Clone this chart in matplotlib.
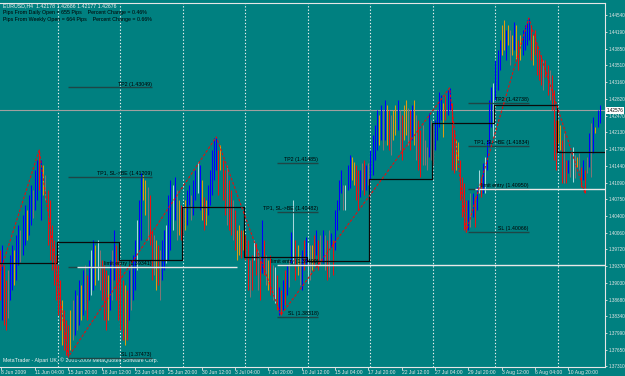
import numpy as np
import matplotlib.pyplot as plt

plt.rcParams['font.family'] = ['Liberation Sans', 'DejaVu Sans']

# EURUSD H4, bars counted from 8 Jun 2009 00:00 (weekends skipped)
first_bar = 2
bar_high = [
    1.3970, 1.3980, 1.3939, 1.3908, 1.3929, 1.3960, 1.3980, 1.3970, 1.4001, 1.4021, 1.4011, 1.4042, 1.4063, 1.4052,
    1.4083, 1.4104, 1.4094, 1.4135, 1.4155, 1.4176, 1.4155, 1.4145, 1.4125, 1.4094, 1.4073, 1.4021, 1.3991, 1.3960,
    1.3939, 1.3908, 1.3867, 1.3846, 1.3826, 1.3815, 1.3846, 1.3867, 1.3887, 1.3877, 1.3908, 1.3898, 1.3929, 1.3939, 1.3919,
    1.3949, 1.3970, 1.3991, 1.3980, 1.3991, 1.3970, 1.3949, 1.3939, 1.3929, 1.3919, 1.3949, 1.3970, 1.4011, 1.3980, 1.3949,
    1.3939, 1.3908, 1.3898, 1.3887, 1.3929, 1.3939, 1.3960, 1.3991, 1.4032, 1.4073, 1.4129, 1.4125, 1.4114, 1.4100, 1.4083,
    1.4011, 1.4001, 1.3991, 1.3980, 1.3970, 1.3991, 1.4011, 1.4021, 1.4083, 1.4114, 1.4104, 1.4121, 1.4094, 1.4073, 1.4063,
    1.4059, 1.4073, 1.4094, 1.4104, 1.4083, 1.4114, 1.4135, 1.4151, 1.4145, 1.4114, 1.4079, 1.4073, 1.4104, 1.4135, 1.4176,
    1.4201, 1.4203, 1.4176, 1.4186, 1.4155, 1.4135, 1.4145, 1.4114, 1.4094, 1.4073, 1.4052, 1.4011, 1.4021, 1.4011, 1.4011,
    1.4001, 1.3991, 1.3949, 1.3960, 1.3991, 1.3984, 1.3970, 1.3949, 1.4032, 1.3991, 1.3960, 1.3949, 1.3960, 1.3939, 1.3935,
    1.3919, 1.3894, 1.3887, 1.3908, 1.3929, 1.3939, 1.3949, 1.4007, 1.4073, 1.3991, 1.3980, 1.3960, 1.3970, 1.3991, 1.3997,
    1.3984, 1.3980, 1.3980, 1.4001, 1.4011, 1.3991, 1.4001, 1.4011, 1.4001, 1.3991, 1.4011, 1.4005, 1.3991, 1.4052, 1.4073,
    1.4114, 1.4135, 1.4104, 1.4104, 1.4145, 1.4166, 1.4162, 1.4151, 1.4145, 1.4135, 1.4135, 1.4149, 1.4155, 1.4145, 1.4149,
    1.4176, 1.4207, 1.4228, 1.4258, 1.4248, 1.4269, 1.4258, 1.4279, 1.4269, 1.4258, 1.4248, 1.4258, 1.4269, 1.4279, 1.4258,
    1.4248, 1.4269, 1.4279, 1.4263, 1.4258, 1.4269, 1.4279, 1.4248, 1.4238, 1.4217, 1.4228, 1.4197, 1.4182, 1.4252, 1.4238,
    1.4228, 1.4238, 1.4258, 1.4295, 1.4289, 1.4273, 1.4289, 1.4300, 1.4304, 1.4273, 1.4217, 1.4197, 1.4192, 1.4155, 1.4121,
    1.4108, 1.4073, 1.4073, 1.4087, 1.4087, 1.4079, 1.4100, 1.4135, 1.4121, 1.4149, 1.4162, 1.4197, 1.4279, 1.4306, 1.4314,
    1.4361, 1.4382, 1.4403, 1.4433, 1.4444, 1.4423, 1.4433, 1.4423, 1.4413, 1.4440, 1.4433, 1.4403, 1.4413, 1.4423, 1.4433,
    1.4444, 1.4448, 1.4433, 1.4413, 1.4423, 1.4392, 1.4382, 1.4372, 1.4361, 1.4361, 1.4351, 1.4341, 1.4330, 1.4300, 1.4238,
    1.4238, 1.4228, 1.4197, 1.4211, 1.4155, 1.4155, 1.4170, 1.4182, 1.4166, 1.4162, 1.4170, 1.4141, 1.4155, 1.4135, 1.4162,
    1.4211, 1.4232, 1.4244, 1.4223, 1.4258, 1.4269,
]
bar_low = [
    1.3867, 1.3826, 1.3815, 1.3805, 1.3830, 1.3867, 1.3887, 1.3898, 1.3908, 1.3939, 1.3945, 1.3960, 1.3980, 1.3991,
    1.4001, 1.4021, 1.4036, 1.4052, 1.4073, 1.4094, 1.4032, 1.4083, 1.4073, 1.3980, 1.3949, 1.3929, 1.3898, 1.3867,
    1.3836, 1.3805, 1.3774, 1.3764, 1.3754, 1.3750, 1.3764, 1.3785, 1.3795, 1.3805, 1.3815, 1.3826, 1.3836, 1.3846, 1.3826,
    1.3867, 1.3877, 1.3887, 1.3898, 1.3908, 1.3887, 1.3867, 1.3826, 1.3805, 1.3826, 1.3846, 1.3867, 1.3908, 1.3867, 1.3826,
    1.3805, 1.3785, 1.3774, 1.3785, 1.3826, 1.3846, 1.3867, 1.3887, 1.3929, 1.3970, 1.3991, 1.4073, 1.4042, 1.3991, 1.3980,
    1.3908, 1.3919, 1.3887, 1.3898, 1.3867, 1.3908, 1.3929, 1.3943, 1.3949, 1.3970, 1.4011, 1.4032, 1.3991, 1.4001, 1.3991,
    1.4001, 1.4011, 1.4021, 1.4063, 1.4032, 1.4042, 1.4073, 1.4087, 1.4052, 1.4032, 1.4011, 1.4021, 1.4042, 1.4063, 1.4083,
    1.4114, 1.4135, 1.4083, 1.4135, 1.4073, 1.4042, 1.4021, 1.4011, 1.4001, 1.3991, 1.3970, 1.3949, 1.3960, 1.3954, 1.3970,
    1.3949, 1.3887, 1.3873, 1.3887, 1.3949, 1.3919, 1.3887, 1.3867, 1.3923, 1.3919, 1.3898, 1.3887, 1.3877, 1.3867, 1.3861,
    1.3846, 1.3836, 1.3836, 1.3846, 1.3857, 1.3877, 1.3894, 1.3943, 1.3943, 1.3908, 1.3919, 1.3898, 1.3887, 1.3929, 1.3939,
    1.3902, 1.3908, 1.3929, 1.3939, 1.3960, 1.3929, 1.3939, 1.3943, 1.3929, 1.3908, 1.3914, 1.3976, 1.3919, 1.3970, 1.4011,
    1.4052, 1.4087, 1.4052, 1.4052, 1.4094, 1.4098, 1.4114, 1.4104, 1.4073, 1.4052, 1.4079, 1.4094, 1.4083, 1.4094, 1.4104,
    1.4114, 1.4125, 1.4155, 1.4176, 1.4186, 1.4197, 1.4176, 1.4197, 1.4186, 1.4176, 1.4166, 1.4197, 1.4207, 1.4217, 1.4176,
    1.4155, 1.4197, 1.4207, 1.4186, 1.4176, 1.4197, 1.4186, 1.4155, 1.4135, 1.4121, 1.4145, 1.4145, 1.4135, 1.4162, 1.4155,
    1.4145, 1.4176, 1.4197, 1.4223, 1.4238, 1.4203, 1.4238, 1.4248, 1.4258, 1.4135, 1.4129, 1.4135, 1.4155, 1.4073, 1.4038,
    1.4011, 1.4007, 1.4011, 1.4017, 1.4038, 1.4017, 1.4052, 1.4087, 1.4079, 1.4087, 1.4087, 1.4135, 1.4182, 1.4223, 1.4203,
    1.4279, 1.4300, 1.4341, 1.4372, 1.4382, 1.4361, 1.4392, 1.4351, 1.4372, 1.4382, 1.4361, 1.4341, 1.4361, 1.4372, 1.4382,
    1.4392, 1.4403, 1.4361, 1.4351, 1.4372, 1.4330, 1.4320, 1.4310, 1.4300, 1.4326, 1.4289, 1.4279, 1.4258, 1.4155, 1.4135,
    1.4190, 1.4176, 1.4108, 1.4108, 1.4108, 1.4129, 1.4121, 1.4110, 1.4118, 1.4141, 1.4135, 1.4100, 1.4114, 1.4087, 1.4129,
    1.4141, 1.4121, 1.4170, 1.4211, 1.4223, 1.4232,
]
bar_color = ("rbrrgbbobbgbbobbgbbrbogrrrrr"
             "rrorrrogbgbobgrbwbowgrrrobgbrr"
             "rrorbgbbwbboogrrgorgbbwbbwbgor"
             "gobbgbbwborobbbbbrorrgrrgrooro"
             "rrgrwrgrbrgorgwrbrbrbgbwrogbrb"
             "wgorbrgbgrgbrbbbbgwbboorrbgrbg"
             "bbbbobgborgoobgroogrbogrrgggbg"
             "gbbbborbbrroorrrrbgbrbwrbwbbbw"
             "bbboobogoborobbbbrorrrrgrrgrrr"
             "oorgrbgwgogrbrgbgbobb")
palette = {"b": "#0000FF", "r": "#EE1111", "o": "#E09A10", "g": "#7F7575", "w": "#A8D8DC"}

# weekly step line (black)
week_start = [0, 30, 60, 90, 120, 150, 180, 210, 240, 270]
week_level = [1.3943, 1.3986, 1.3949, 1.4059, 1.3956, 1.3947, 1.4116, 1.4232, 1.4269, 1.4172]

# zigzag swing points
zz_bar = [-6, 21, 35, 106, 137, 218, 226, 256, 283]
zz_price = [1.3815, 1.4176, 1.3750, 1.4203, 1.3836, 1.4304, 1.4007, 1.4448, 1.4087]

# trade levels
level_names = ["TP2", "TP1, SL->BE", "limit entry", "SL"]
level_sets = [
    [1.43049, 1.41209, 1.39341, 1.37473],
    [1.41485, 1.40482, 1.39400, 1.38318],
    [1.42738, 1.41834, 1.40950, 1.40066],
]
set_start = [35, 135, 227]
set_end = [75, 155, 256]
entry_start = [39, 135, 230]
entry_end = [116, 293, 293]

bid = 1.42576
price_ticks = [1.37310, 1.37650, 1.37990, 1.38340, 1.38680, 1.39030, 1.39370, 1.39720, 1.40060, 1.40400, 1.40750,
               1.41090, 1.41440, 1.41790, 1.42130, 1.42470, 1.42820, 1.43160, 1.43510, 1.43850, 1.44190, 1.44540]
time_ticks = [2.5, 19, 35, 51, 67, 83, 99, 115, 131, 147, 163, 179, 195, 211, 227, 243, 259, 275]
time_labels = ["8 Jun 2009", "11 Jun 04:00", "15 Jun 20:00", "18 Jun 12:00", "23 Jun 04:00", "25 Jun 20:00",
               "30 Jun 12:00", "3 Jul 04:00", "7 Jul 20:00", "10 Jul 12:00", "15 Jul 04:00", "17 Jul 20:00",
               "22 Jul 12:00", "27 Jul 04:00", "29 Jul 20:00", "3 Aug 12:00", "6 Aug 04:00", "10 Aug 20:00"]

bg = "#008080"
fg = "#E6E6E6"
fs = 3.6
fig = plt.figure(figsize=(6.25, 3.76), dpi=100, facecolor=bg)
ax = fig.add_axes([0.0, 0.024, 0.968, 0.968], facecolor=bg)
ax.set_xlim(2.16, 292.6)
ax.set_ylim(1.3729, 1.4479)

# period separators
for w in week_start[1:]:
    ax.axvline(w, color="#F0F0F0", lw=0.8, ls=(0, (1.2, 1.8)), zorder=1)

ax.axhline(bid, color="#A0A0A0", lw=0.8, zorder=1)

xb = np.arange(first_bar, first_bar + len(bar_high))
cols = [palette[c] for c in bar_color]
ax.vlines(xb, bar_low, bar_high, colors=cols, lw=0.75, zorder=3)

# weekly line
wx = [s - 0.5 for s in week_start] + [293]
wy = week_level + [week_level[-1]]
ax.step(wx, wy, where="post", color="#0A0A0A", lw=0.9, zorder=4)

ax.plot(zz_bar, zz_price, color="#E01010", lw=0.8, ls=(0, (2.5, 1.5)), zorder=5)

for k, prices in enumerate(level_sets):
    for name, p in zip(level_names, prices):
        ax.hlines(p, set_start[k], set_end[k], color="#1E4646", lw=1.0, zorder=4)
        ax.text(set_end[k], p + 0.0002, f"{name} ({p:.5f})", fontsize=fs + 0.2, color="#000000",
                ha="right", va="bottom", zorder=6)
    ax.hlines(prices[2], entry_start[k], entry_end[k], color="#E8E8E8", lw=1.0, zorder=4)

ax.spines["left"].set_visible(False)
for s in ["right", "top", "bottom"]:
    ax.spines[s].set_color(fg)
    ax.spines[s].set_linewidth(0.8)

ax.yaxis.tick_right()
ax.set_yticks(price_ticks)
ax.set_yticklabels([f"{p:.5f}" for p in price_ticks])
ax.set_xticks(time_ticks)
ax.set_xticklabels(time_labels)
ax.tick_params(axis="y", colors=fg, labelsize=3.3, length=1.5, width=0.6, pad=0.8)
ax.tick_params(axis="x", colors=fg, labelsize=fs, length=2, width=0.6, pad=0.5)
for lab in ax.get_xticklabels():
    lab.set_ha("left")

ax.text(1.002, bid, f"{bid:.5f}", transform=ax.get_yaxis_transform(), fontsize=3.3, color="#000000",
        ha="left", va="center", bbox=dict(facecolor="#FFFFFF", edgecolor="none", pad=0.4), zorder=7)

ax.text(0.005, 0.993, "EURUSD,H4  1.42178 1.42686 1.42177 1.42676", transform=ax.transAxes,
        fontsize=fs + 0.2, color="#F0F0F0", va="center")
ax.text(0.005, 0.975, "Pips From Daily Open = 655 Pips    Percent Change = 0.46%", transform=ax.transAxes,
        fontsize=fs + 0.2, color="#000000", va="center")
ax.text(0.005, 0.956, "Pips From Weekly Open = 664 Pips    Percent Change = 0.66%", transform=ax.transAxes,
        fontsize=fs + 0.2, color="#000000", va="center")
ax.text(0.005, 0.019, "MetaTrader - Alpari UK, \u00a9 2001-2009 MetaQuotes Software Corp.", transform=ax.transAxes,
        fontsize=fs + 0.2, color="#F0F0F0", va="center")

fig.savefig("out.png", dpi=100, facecolor=bg)
